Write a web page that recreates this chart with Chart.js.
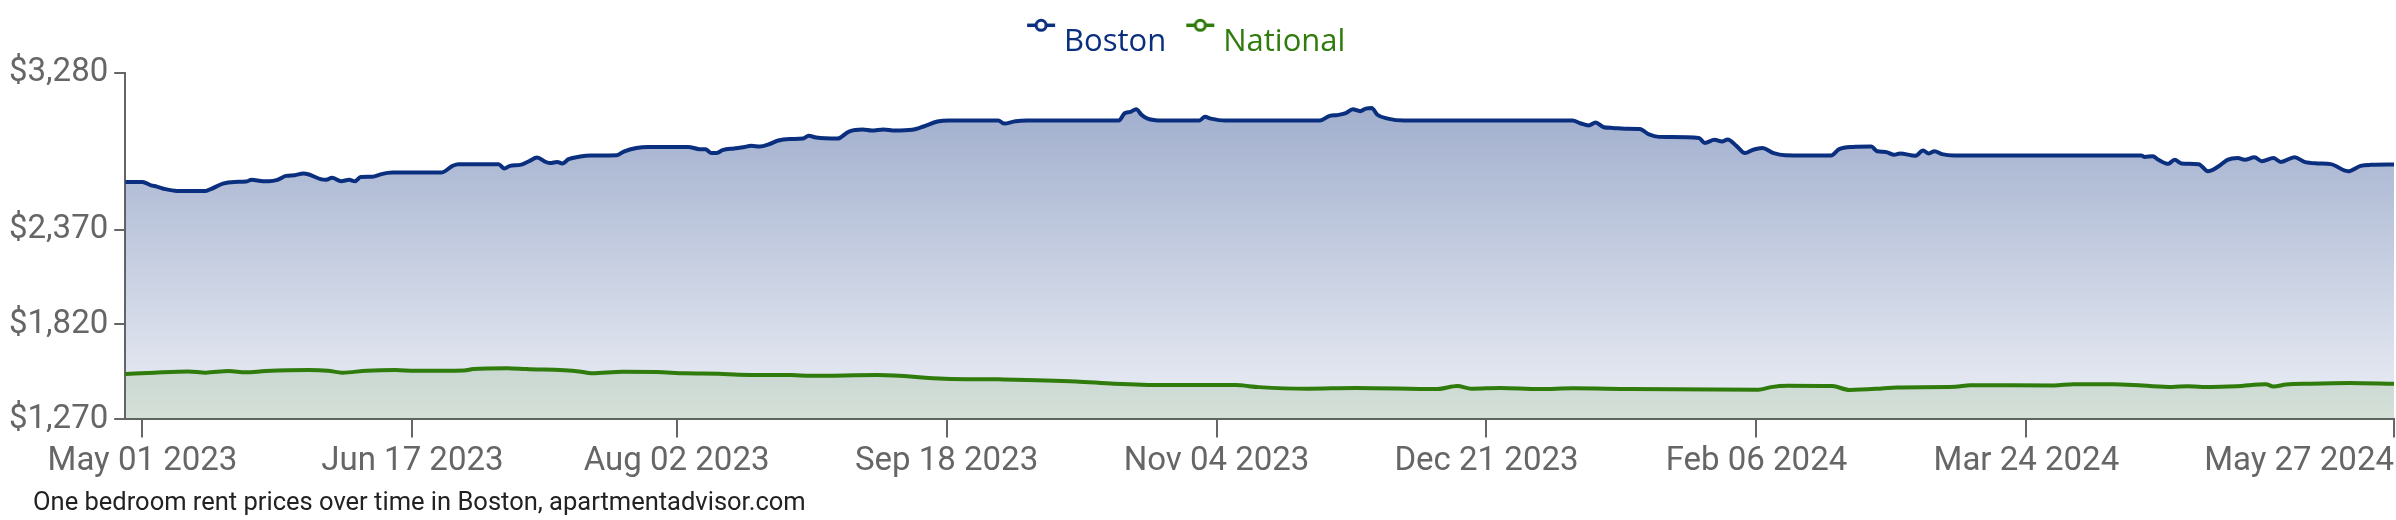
<!DOCTYPE html>
<html>
<head>
<meta charset="utf-8">
<script src="https://cdn.jsdelivr.net/npm/chart.js@4.4.1/dist/chart.umd.min.js"></script>
<style>
  html, body { margin: 0; padding: 0; background: #ffffff; overflow: hidden; }
  #wrap { position: relative; width: 2396px; height: 520px; }
  #caption { position: absolute; left: 33px; top: 485px; font-family: Roboto, sans-serif; font-size: 25.5px; line-height: 32px; color: #222; white-space: nowrap; }
</style>
</head>
<body>
<div id="wrap">
  <canvas id="c" width="2396" height="520"></canvas>
  <div id="caption">One bedroom rent prices over time in Boston, apartmentadvisor.com</div>
</div>
<script>
// ---- data (days counted from May 01 2023) ----
const startDate = '2023-05-01';
const seriesNames = ['Boston', 'National'];

const bostonDays = [-3, 0, 1.5, 2.5, 4, 6, 11, 12, 14, 16, 18, 19, 21, 22, 23.5, 25, 26.5, 28, 29, 31, 32, 33, 34.6, 36, 37, 38, 40, 41.6, 43.5, 52, 54, 55, 62, 63,
  64, 65.8, 67.3, 68.7, 70.2, 71, 72.2, 73.1, 74.2, 76.2, 78, 82.6, 83.8, 86, 88, 95, 97, 98, 99, 100, 101, 103, 104.6, 106, 107.5, 109, 110.7, 112.7, 115, 116, 117.3, 121, 123, 125.4, 127, 129,
  131, 134, 136, 138.4, 140.4, 149, 150, 152, 154, 170, 171, 172, 173, 174, 175, 177.5, 184, 185, 186, 188.5,
  205, 206.7, 208, 209.5, 210.7, 212, 213, 214, 215, 216.8, 219.7, 249, 250.3, 251.8, 253, 254.4, 256, 258, 260.7, 262.3,
  264, 271, 272, 273.7, 275, 276, 277.5, 279, 280.4, 282, 284, 286, 294, 295.4, 297.7, 301, 302, 303.5, 305, 306, 308.7, 310, 311, 312, 313.3, 315.4,
  348, 348.6, 350, 351, 352.7, 353.8, 355, 358, 359.6, 361.4, 363, 364.8, 366, 367.7, 369, 371, 372.3, 374.7, 376.4, 378.7, 381, 384, 386.2, 388, 392];
const bostonRent = [2646, 2646, 2626, 2619, 2604, 2594, 2594, 2606, 2636, 2646, 2648, 2658, 2650, 2650, 2658, 2681, 2685, 2695, 2689, 2662, 2658, 2670, 2650, 2658, 2650, 2674, 2676, 2691, 2700, 2700, 2739, 2749, 2749, 2724,
  2739, 2745, 2766, 2787, 2762, 2755, 2762, 2753, 2778, 2793, 2799, 2801, 2822, 2843, 2849, 2849, 2836, 2836, 2814, 2814, 2830, 2840, 2847, 2855, 2851, 2863, 2886, 2894, 2897, 2913, 2903, 2897, 2938, 2950, 2944, 2950,
  2944, 2948, 2967, 2996, 3002, 3002, 2984, 2998, 3002, 3002, 3044, 3052, 3067, 3033, 3013, 3002, 3002, 3023, 3013, 3002,
  3002, 3029, 3033, 3044, 3067, 3056, 3071, 3075, 3035, 3013, 3002, 3002, 2986, 2973, 2990, 2963, 2959, 2954, 2952, 2921,
  2907, 2901, 2872, 2890, 2880, 2892, 2855, 2813, 2832, 2843, 2813, 2801, 2799, 2836, 2849, 2851, 2824, 2820, 2803, 2811, 2797, 2828, 2811, 2824, 2807, 2799,
  2799, 2791, 2795, 2774, 2751, 2774, 2753, 2749, 2708, 2735, 2774, 2784, 2774, 2789, 2766, 2784, 2762, 2789, 2762, 2753, 2749, 2708, 2739, 2745, 2747];

const nationalDays = [-3, 2, 8, 11, 15, 18, 21.4, 29, 32.3, 34.8, 39, 44, 47.5, 56, 57.6, 63.5, 66.8, 76, 78.2, 83.6, 89.5, 94.5, 100.4, 103.8, 113, 116.4, 128,
  139.7, 149, 162.5, 169.2, 177.6, 190.2, 194.4, 202.8, 211.2, 225.5, 228.9, 231.4, 236.4, 243.2, 249, 259,
  281.3, 283.5, 286.4, 294.2, 297.2, 302.8, 305.4, 315.6, 318.2, 332.8, 336.2, 343.1, 348.3, 353.4, 356, 358.6, 364.6, 369.7, 371, 373.2, 377.4, 384.3, 392];
const nationalRent = [1533, 1541, 1548, 1541, 1550, 1543, 1550, 1556, 1552, 1541, 1552, 1556, 1552, 1554, 1562, 1567, 1562, 1548, 1537, 1546, 1545, 1537, 1535, 1529, 1527, 1523, 1527,
  1506, 1502, 1490, 1477, 1469, 1469, 1457, 1448, 1452, 1446, 1463, 1448, 1452, 1446, 1450, 1446,
  1442, 1457, 1465, 1463, 1441, 1449, 1455, 1459, 1468, 1467, 1474, 1474, 1466, 1458, 1462, 1458, 1462, 1474, 1460, 1472, 1477, 1481, 1476];

const xRange = ['2023-04-28', '2024-05-27'];
const xTickDates = ['2023-05-01', '2023-06-17', '2023-08-02', '2023-09-18', '2023-11-04', '2023-12-21', '2024-02-06', '2024-03-24', '2024-05-27'];
const xTickLabels = ['May 01 2023', 'Jun 17 2023', 'Aug 02 2023', 'Sep 18 2023', 'Nov 04 2023', 'Dec 21 2023', 'Feb 06 2024', 'Mar 24 2024', 'May 27 2024'];
const yTickValues = [1270, 1820, 2370, 3280];

// ---- helpers ----
const DAY = 86400000;
const dayOf = s => (Date.parse(s + 'T00:00:00Z') - Date.parse(startDate + 'T00:00:00Z')) / DAY;
const xTickDays = xTickDates.map(dayOf);

const navy = '#0b2f7f';
const green = '#2f7b0c';

// legend glyph: short line with a hollow circle, drawn right of the box centre
function legendIcon(color) {
  const c = document.createElement('canvas');
  c.width = 48; c.height = 60;
  const g = c.getContext('2d');
  const cy = 13.3;
  g.strokeStyle = color; g.lineWidth = 3.5;
  g.beginPath(); g.moveTo(19, cy); g.lineTo(47, cy); g.stroke();
  g.beginPath(); g.arc(33, cy, 5, 0, Math.PI * 2);
  g.fillStyle = '#ffffff'; g.fill(); g.lineWidth = 3; g.stroke();
  return c;
}

const legendPadPlugin = {
  id: 'legendPad',
  afterInit(chart) {
    const lg = chart.legend;
    if (lg && !lg._padded) {
      const orig = lg.fit.bind(lg);
      lg.fit = function () { orig(); this.height += 5; };
      lg._padded = true;
    }
  },
  afterLayout(chart) {
    const lg = chart.legend;
    if (lg) { lg.left -= 18; lg.right -= 18; }
  },
  beforeDraw(chart) {
    const sc = chart.scales.x;
    const items = sc.getLabelItems();
    if (items.length) items[items.length - 1].options.textAlign = 'right';
  }
};

const bostonData = bostonDays.map((d, i) => ({ x: d, y: bostonRent[i] }));
const nationalData = nationalDays.map((d, i) => ({ x: d, y: nationalRent[i] }));

new Chart(document.getElementById('c'), {
  type: 'line',
  data: {
    datasets: [
      {
        label: seriesNames[0],
        data: bostonData,
        borderColor: navy,
        borderWidth: 4,
        pointRadius: 0,
        cubicInterpolationMode: 'monotone',
        fill: 'origin',
        order: 1,
        backgroundColor: (ctx) => {
          const area = ctx.chart.chartArea;
          if (!area) return 'rgba(11,47,127,0.25)';
          const gr = ctx.chart.ctx.createLinearGradient(0, area.top, 0, area.bottom);
          gr.addColorStop(0, 'rgba(11,47,127,0.42)');
          gr.addColorStop(1, 'rgba(11,47,127,0.08)');
          return gr;
        }
      },
      {
        label: seriesNames[1],
        data: nationalData,
        borderColor: green,
        borderWidth: 4,
        pointRadius: 0,
        cubicInterpolationMode: 'monotone',
        fill: 'origin',
        order: 0,
        backgroundColor: 'rgba(47,123,12,0.12)'
      }
    ]
  },
  options: {
    responsive: false,
    devicePixelRatio: 1,
    animation: false,
    layout: { padding: { left: 3, right: 2, top: 18, bottom: 33 } },
    plugins: {
      tooltip: { enabled: false },
      legend: {
        display: true,
        position: 'top',
        labels: {
          usePointStyle: true,
          pointStyleWidth: 33,
          padding: 8.5,
          font: { family: "'Open Sans', sans-serif", size: 31 },
          generateLabels: () => [
            { text: seriesNames[0], fontColor: navy, pointStyle: legendIcon(navy), datasetIndex: 0, hidden: false, lineWidth: 0, fillStyle: navy, strokeStyle: navy },
            { text: seriesNames[1], fontColor: green, pointStyle: legendIcon(green), datasetIndex: 1, hidden: false, lineWidth: 0, fillStyle: green, strokeStyle: green }
          ]
        }
      }
    },
    scales: {
      x: {
        type: 'linear',
        min: dayOf(xRange[0]),
        max: dayOf(xRange[1]),
        afterBuildTicks: (s) => { s.ticks = xTickDays.map(v => ({ value: v })); },
        afterFit: (s) => { s.paddingRight = 0; },
        ticks: {
          autoSkip: false,
          maxRotation: 0,
          padding: 5,
          color: '#666666',
          font: { family: 'Roboto, sans-serif', size: 33 },
          callback: (v) => { const i = xTickDays.indexOf(v); return i >= 0 ? xTickLabels[i] : ''; }
        },
        grid: { display: true, drawOnChartArea: false, drawTicks: true, tickLength: 18, color: '#666666', lineWidth: 2 },
        border: { display: true, color: '#666666', width: 2 }
      },
      y: {
        type: 'linear',
        min: yTickValues[0],
        max: yTickValues[yTickValues.length - 1],
        afterBuildTicks: (s) => { s.ticks = yTickValues.map(v => ({ value: v })); },
        ticks: {
          padding: 6,
          color: '#666666',
          font: { family: 'Roboto, sans-serif', size: 33 },
          callback: (v) => '$' + v.toLocaleString('en-US')
        },
        grid: { display: true, drawOnChartArea: false, drawTicks: true, tickLength: 11, color: '#666666', lineWidth: 2 },
        border: { display: true, color: '#666666', width: 2 }
      }
    }
  },
  plugins: [legendPadPlugin]
});
</script>
</body>
</html>
